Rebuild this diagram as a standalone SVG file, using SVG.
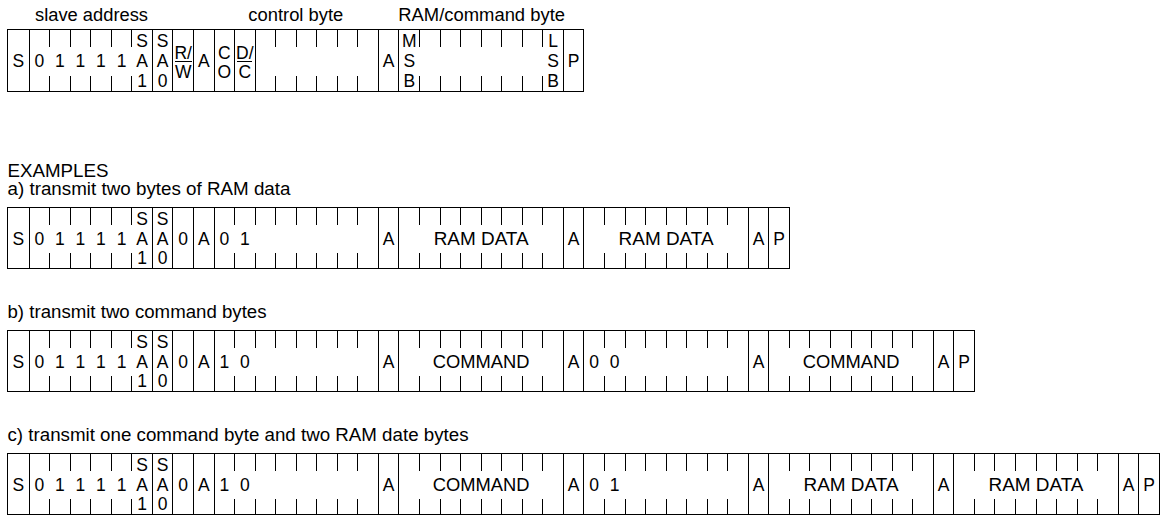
<svg xmlns="http://www.w3.org/2000/svg" xmlns:xlink="http://www.w3.org/1999/xlink" width="1163" height="516" viewBox="0 0 1163 516">
<style>
.ln{stroke:#000;stroke-width:1;fill:none;shape-rendering:crispEdges}
.t{font-family:"Liberation Sans",Arial,Helvetica,sans-serif;font-size:17.5px;fill:#000}
.m{text-anchor:middle}
</style>
<defs>
<path id="f62" class="ln" d="M0,0V62"/>
<path id="f61" class="ln" d="M0,0V61"/>
<path id="t62" class="ln" d="M0,0V17M0,46V62"/>
<path id="t61" class="ln" d="M0,0V17M0,45V61"/>
</defs>
<rect width="1163" height="516" fill="#fff"/>

<g id="labels">
<text class="t" x="35" y="21" textLength="113" lengthAdjust="spacingAndGlyphs">slave address</text>
<text class="t" x="248.3" y="21" textLength="95" lengthAdjust="spacingAndGlyphs">control byte</text>
<text class="t" x="398.3" y="21" textLength="166.7" lengthAdjust="spacingAndGlyphs">RAM/command byte</text>
<text class="t" x="7.5" y="177" textLength="101" lengthAdjust="spacingAndGlyphs">EXAMPLES</text>
<text class="t" x="7.5" y="195" textLength="283" lengthAdjust="spacingAndGlyphs">a) transmit two bytes of RAM data</text>
<text class="t" x="7.5" y="318" textLength="259" lengthAdjust="spacingAndGlyphs">b) transmit two command bytes</text>
<text class="t" x="7.5" y="441" textLength="461" lengthAdjust="spacingAndGlyphs">c) transmit one command byte and two RAM date bytes</text>
</g>

<g id="format" transform="translate(0,29.5)">
<rect class="ln" x="7.5" y="0" width="576.4" height="62"/>
<use xlink:href="#f62" x="29.05"/><use xlink:href="#f62" x="152.35"/><use xlink:href="#f62" x="172.9"/><use xlink:href="#f62" x="193.45"/><use xlink:href="#f62" x="214"/><use xlink:href="#f62" x="234.55"/><use xlink:href="#f62" x="255.1"/><use xlink:href="#f62" x="378.4"/><use xlink:href="#f62" x="398.95"/><use xlink:href="#f62" x="563.35"/>
<use xlink:href="#t62" x="49.6"/><use xlink:href="#t62" x="70.15"/><use xlink:href="#t62" x="90.7"/><use xlink:href="#t62" x="111.25"/><use xlink:href="#t62" x="131.8"/>
<use xlink:href="#t62" x="275.65"/><use xlink:href="#t62" x="296.2"/><use xlink:href="#t62" x="316.75"/><use xlink:href="#t62" x="337.3"/><use xlink:href="#t62" x="357.85"/>
<use xlink:href="#t62" x="419.5"/><use xlink:href="#t62" x="440.05"/><use xlink:href="#t62" x="460.6"/><use xlink:href="#t62" x="481.15"/><use xlink:href="#t62" x="501.7"/><use xlink:href="#t62" x="522.25"/><use xlink:href="#t62" x="542.8"/>
<path class="ln" d="M175,32H191.5M237,32H251.5"/>
<g class="t m">
<text x="18.3" y="37">S</text>
<text x="39.33" y="37">0</text><text x="59.88" y="37">1</text><text x="80.43" y="37">1</text><text x="100.98" y="37">1</text><text x="121.53" y="37">1</text>
<text x="142.08" y="17">S</text><text x="142.08" y="37">A</text><text x="142.08" y="57">1</text>
<text x="162.63" y="17">S</text><text x="162.63" y="37">A</text><text x="162.63" y="57">0</text>
<text x="183.18" y="29">R/</text><text x="183.18" y="48.5">W</text>
<text x="203.73" y="37">A</text>
<text x="224.28" y="29">C</text><text x="224.28" y="48">O</text>
<text x="244.83" y="29">D/</text><text x="244.83" y="48.5">C</text>
<text x="388.68" y="37">A</text>
<text x="409.23" y="17">M</text><text x="409.23" y="37">S</text><text x="409.23" y="57">B</text>
<text x="553.08" y="17">L</text><text x="553.08" y="37">S</text><text x="553.08" y="57">B</text>
<text x="573.63" y="37">P</text>
</g>
</g>

<g id="example-a" transform="translate(0,207.5)">
<rect class="ln" x="7.5" y="0" width="781.9" height="61"/>
<use xlink:href="#f61" x="29.05"/><use xlink:href="#f61" x="152.35"/><use xlink:href="#f61" x="172.9"/><use xlink:href="#f61" x="193.45"/><use xlink:href="#f61" x="214"/><use xlink:href="#f61" x="378.4"/><use xlink:href="#f61" x="398.95"/><use xlink:href="#f61" x="563.35"/><use xlink:href="#f61" x="583.9"/><use xlink:href="#f61" x="748.3"/><use xlink:href="#f61" x="768.85"/>
<use xlink:href="#t61" x="49.6"/><use xlink:href="#t61" x="70.15"/><use xlink:href="#t61" x="90.7"/><use xlink:href="#t61" x="111.25"/><use xlink:href="#t61" x="131.8"/>
<use xlink:href="#t61" x="234.55"/><use xlink:href="#t61" x="255.1"/><use xlink:href="#t61" x="275.65"/><use xlink:href="#t61" x="296.2"/><use xlink:href="#t61" x="316.75"/><use xlink:href="#t61" x="337.3"/><use xlink:href="#t61" x="357.85"/>
<use xlink:href="#t61" x="419.5"/><use xlink:href="#t61" x="440.05"/><use xlink:href="#t61" x="460.6"/><use xlink:href="#t61" x="481.15"/><use xlink:href="#t61" x="501.7"/><use xlink:href="#t61" x="522.25"/><use xlink:href="#t61" x="542.8"/>
<use xlink:href="#t61" x="604.45"/><use xlink:href="#t61" x="625"/><use xlink:href="#t61" x="645.55"/><use xlink:href="#t61" x="666.1"/><use xlink:href="#t61" x="686.65"/><use xlink:href="#t61" x="707.2"/><use xlink:href="#t61" x="727.75"/>
<g class="t m">
<text x="18.3" y="37">S</text>
<text x="39.33" y="37">0</text><text x="59.88" y="37">1</text><text x="80.43" y="37">1</text><text x="100.98" y="37">1</text><text x="121.53" y="37">1</text>
<text x="142.08" y="17">S</text><text x="142.08" y="37">A</text><text x="142.08" y="56.5">1</text>
<text x="162.63" y="17">S</text><text x="162.63" y="37">A</text><text x="162.63" y="56.5">0</text>
<text x="183.18" y="37">0</text>
<text x="203.73" y="37">A</text>
<text x="224.28" y="37">0</text><text x="244.83" y="37">1</text>
<text x="388.68" y="37">A</text>
<text x="481.15" y="37" textLength="95" lengthAdjust="spacingAndGlyphs">RAM DATA</text>
<text x="573.63" y="37">A</text>
<text x="666.1" y="37" textLength="95" lengthAdjust="spacingAndGlyphs">RAM DATA</text>
<text x="758.58" y="37">A</text>
<text x="779.13" y="37">P</text>
</g>
</g>

<g id="example-b" transform="translate(0,330.5)">
<rect class="ln" x="7.5" y="0" width="966.85" height="61"/>
<use xlink:href="#f61" x="29.05"/><use xlink:href="#f61" x="152.35"/><use xlink:href="#f61" x="172.9"/><use xlink:href="#f61" x="193.45"/><use xlink:href="#f61" x="214"/><use xlink:href="#f61" x="378.4"/><use xlink:href="#f61" x="398.95"/><use xlink:href="#f61" x="563.35"/><use xlink:href="#f61" x="583.9"/><use xlink:href="#f61" x="748.3"/><use xlink:href="#f61" x="768.85"/><use xlink:href="#f61" x="933.25"/><use xlink:href="#f61" x="953.8"/>
<use xlink:href="#t61" x="49.6"/><use xlink:href="#t61" x="70.15"/><use xlink:href="#t61" x="90.7"/><use xlink:href="#t61" x="111.25"/><use xlink:href="#t61" x="131.8"/>
<use xlink:href="#t61" x="234.55"/><use xlink:href="#t61" x="255.1"/><use xlink:href="#t61" x="275.65"/><use xlink:href="#t61" x="296.2"/><use xlink:href="#t61" x="316.75"/><use xlink:href="#t61" x="337.3"/><use xlink:href="#t61" x="357.85"/>
<use xlink:href="#t61" x="419.5"/><use xlink:href="#t61" x="440.05"/><use xlink:href="#t61" x="460.6"/><use xlink:href="#t61" x="481.15"/><use xlink:href="#t61" x="501.7"/><use xlink:href="#t61" x="522.25"/><use xlink:href="#t61" x="542.8"/>
<use xlink:href="#t61" x="604.45"/><use xlink:href="#t61" x="625"/><use xlink:href="#t61" x="645.55"/><use xlink:href="#t61" x="666.1"/><use xlink:href="#t61" x="686.65"/><use xlink:href="#t61" x="707.2"/><use xlink:href="#t61" x="727.75"/>
<use xlink:href="#t61" x="789.4"/><use xlink:href="#t61" x="809.95"/><use xlink:href="#t61" x="830.5"/><use xlink:href="#t61" x="851.05"/><use xlink:href="#t61" x="871.6"/><use xlink:href="#t61" x="892.15"/><use xlink:href="#t61" x="912.7"/>
<g class="t m">
<text x="18.3" y="37">S</text>
<text x="39.33" y="37">0</text><text x="59.88" y="37">1</text><text x="80.43" y="37">1</text><text x="100.98" y="37">1</text><text x="121.53" y="37">1</text>
<text x="142.08" y="17">S</text><text x="142.08" y="37">A</text><text x="142.08" y="56.5">1</text>
<text x="162.63" y="17">S</text><text x="162.63" y="37">A</text><text x="162.63" y="56.5">0</text>
<text x="183.18" y="37">0</text>
<text x="203.73" y="37">A</text>
<text x="224.28" y="37">1</text><text x="244.83" y="37">0</text>
<text x="388.68" y="37">A</text>
<text x="481.15" y="37" textLength="96.7" lengthAdjust="spacingAndGlyphs">COMMAND</text>
<text x="573.63" y="37">A</text>
<text x="594.18" y="37">0</text><text x="614.73" y="37">0</text>
<text x="758.58" y="37">A</text>
<text x="851.05" y="37" textLength="96.7" lengthAdjust="spacingAndGlyphs">COMMAND</text>
<text x="943.53" y="37">A</text>
<text x="964.08" y="37">P</text>
</g>
</g>

<g id="example-c" transform="translate(0,453.5)">
<rect class="ln" x="7.5" y="0" width="1151.8" height="61"/>
<use xlink:href="#f61" x="29.05"/><use xlink:href="#f61" x="152.35"/><use xlink:href="#f61" x="172.9"/><use xlink:href="#f61" x="193.45"/><use xlink:href="#f61" x="214"/><use xlink:href="#f61" x="378.4"/><use xlink:href="#f61" x="398.95"/><use xlink:href="#f61" x="563.35"/><use xlink:href="#f61" x="583.9"/><use xlink:href="#f61" x="748.3"/><use xlink:href="#f61" x="768.85"/><use xlink:href="#f61" x="933.25"/><use xlink:href="#f61" x="953.8"/><use xlink:href="#f61" x="1118.2"/><use xlink:href="#f61" x="1138.75"/>
<use xlink:href="#t61" x="49.6"/><use xlink:href="#t61" x="70.15"/><use xlink:href="#t61" x="90.7"/><use xlink:href="#t61" x="111.25"/><use xlink:href="#t61" x="131.8"/>
<use xlink:href="#t61" x="234.55"/><use xlink:href="#t61" x="255.1"/><use xlink:href="#t61" x="275.65"/><use xlink:href="#t61" x="296.2"/><use xlink:href="#t61" x="316.75"/><use xlink:href="#t61" x="337.3"/><use xlink:href="#t61" x="357.85"/>
<use xlink:href="#t61" x="419.5"/><use xlink:href="#t61" x="440.05"/><use xlink:href="#t61" x="460.6"/><use xlink:href="#t61" x="481.15"/><use xlink:href="#t61" x="501.7"/><use xlink:href="#t61" x="522.25"/><use xlink:href="#t61" x="542.8"/>
<use xlink:href="#t61" x="604.45"/><use xlink:href="#t61" x="625"/><use xlink:href="#t61" x="645.55"/><use xlink:href="#t61" x="666.1"/><use xlink:href="#t61" x="686.65"/><use xlink:href="#t61" x="707.2"/><use xlink:href="#t61" x="727.75"/>
<use xlink:href="#t61" x="789.4"/><use xlink:href="#t61" x="809.95"/><use xlink:href="#t61" x="830.5"/><use xlink:href="#t61" x="851.05"/><use xlink:href="#t61" x="871.6"/><use xlink:href="#t61" x="892.15"/><use xlink:href="#t61" x="912.7"/>
<use xlink:href="#t61" x="974.35"/><use xlink:href="#t61" x="994.9"/><use xlink:href="#t61" x="1015.45"/><use xlink:href="#t61" x="1036"/><use xlink:href="#t61" x="1056.55"/><use xlink:href="#t61" x="1077.1"/><use xlink:href="#t61" x="1097.65"/>
<g class="t m">
<text x="18.3" y="37">S</text>
<text x="39.33" y="37">0</text><text x="59.88" y="37">1</text><text x="80.43" y="37">1</text><text x="100.98" y="37">1</text><text x="121.53" y="37">1</text>
<text x="142.08" y="17">S</text><text x="142.08" y="37">A</text><text x="142.08" y="56.5">1</text>
<text x="162.63" y="17">S</text><text x="162.63" y="37">A</text><text x="162.63" y="56.5">0</text>
<text x="183.18" y="37">0</text>
<text x="203.73" y="37">A</text>
<text x="224.28" y="37">1</text><text x="244.83" y="37">0</text>
<text x="388.68" y="37">A</text>
<text x="481.15" y="37" textLength="96.7" lengthAdjust="spacingAndGlyphs">COMMAND</text>
<text x="573.63" y="37">A</text>
<text x="594.18" y="37">0</text><text x="614.73" y="37">1</text>
<text x="758.58" y="37">A</text>
<text x="851.05" y="37" textLength="95" lengthAdjust="spacingAndGlyphs">RAM DATA</text>
<text x="943.53" y="37">A</text>
<text x="1036" y="37" textLength="95" lengthAdjust="spacingAndGlyphs">RAM DATA</text>
<text x="1128.48" y="37">A</text>
<text x="1149.03" y="37">P</text>
</g>
</g>
</svg>
